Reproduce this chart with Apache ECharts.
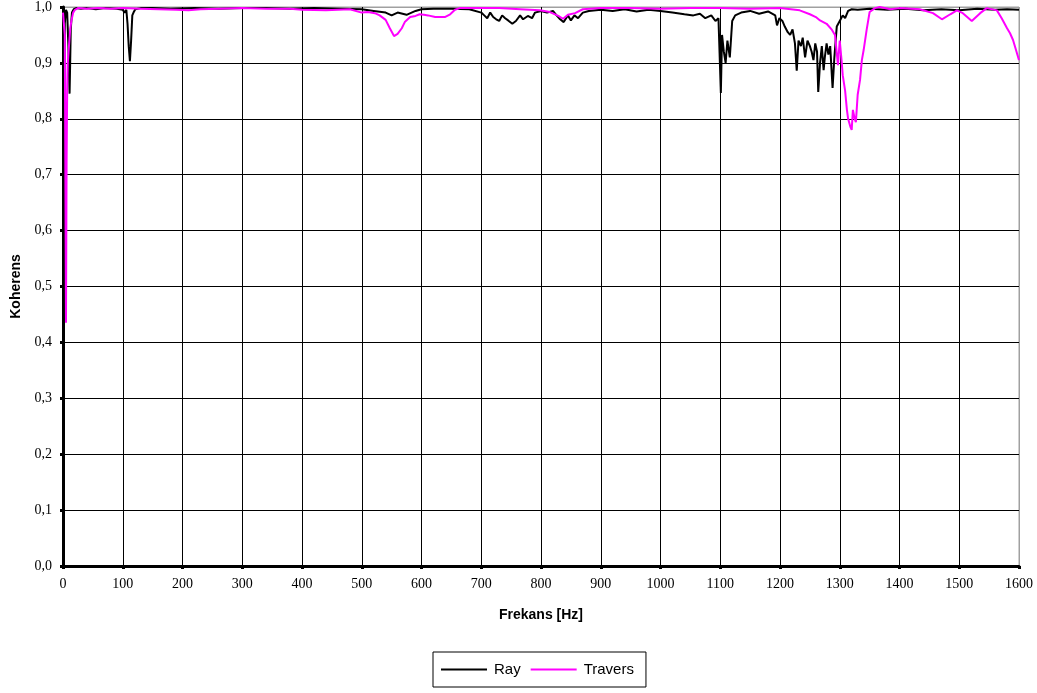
<!DOCTYPE html>
<html>
<head>
<meta charset="utf-8">
<script src="https://cdn.jsdelivr.net/npm/echarts@6/dist/echarts.min.js"></script>
<style>
  html, body { margin: 0; padding: 0; background: #fff; }
  #chart { width: 1037px; height: 693px; }
</style>
</head>
<body>
<div id="chart"></div>
<script>
// Coherence spectra, 0–1600 Hz
const seriesNames = ['Ray', 'Travers'];

const rayHz = [
  0, 1, 2, 3, 5, 7, 9, 10, 11, 12, 13, 15, 18, 22, 30, 40, 55, 70, 90, 100,
  103, 106, 108, 110, 112, 114, 116, 118, 121, 130, 150, 180, 220, 260, 300, 340, 380, 420, 460, 500,
  520, 540, 550, 560, 575, 590, 600, 620, 650, 680, 700, 705, 710, 715, 720, 725, 730, 735, 740, 745,
  752, 758, 765, 770, 778, 785, 790, 800, 810, 820, 826, 832, 838, 845, 850, 856, 862, 870, 880, 900,
  920, 940, 960, 980, 1000, 1020, 1040, 1055, 1066, 1075, 1085, 1092, 1097, 1101, 1103, 1106, 1109, 1112, 1116, 1120,
  1125, 1135, 1150, 1165, 1180, 1192, 1195, 1199, 1204, 1208, 1213, 1217, 1221, 1225, 1228, 1231, 1235, 1238, 1242, 1246,
  1250, 1253, 1256, 1259, 1262, 1264, 1267, 1270, 1273, 1275, 1278, 1281, 1284, 1288, 1291, 1295, 1300, 1305, 1309, 1314,
  1320, 1330, 1350, 1380, 1410, 1440, 1470, 1500, 1530, 1560, 1580, 1600
];
const rayCoh = [
  1.0, 0.16, 0.55, 0.97, 0.995, 0.99, 0.93, 0.88, 0.845, 0.90, 0.96, 0.99, 0.996, 0.998, 0.997, 0.998, 0.996, 0.998, 0.997, 0.995,
  0.99, 0.995, 0.97, 0.93, 0.903, 0.94, 0.985, 0.99, 0.996, 0.998, 0.998, 0.997, 0.998, 0.997, 0.998, 0.998, 0.997, 0.998, 0.997, 0.996,
  0.993, 0.99, 0.985, 0.99, 0.986, 0.993, 0.996, 0.997, 0.997, 0.996, 0.99, 0.985, 0.98, 0.99, 0.982, 0.978, 0.975, 0.985, 0.98, 0.976,
  0.970, 0.975, 0.985, 0.978, 0.984, 0.98, 0.99, 0.993, 0.99, 0.993, 0.985, 0.978, 0.973, 0.985, 0.976, 0.985, 0.98, 0.99, 0.993, 0.995,
  0.993, 0.996, 0.992, 0.995, 0.993, 0.99, 0.987, 0.985, 0.988, 0.98, 0.985, 0.975, 0.98, 0.846, 0.95, 0.92, 0.90, 0.94, 0.91, 0.975,
  0.985, 0.99, 0.993, 0.988, 0.992, 0.985, 0.967, 0.98, 0.975, 0.965, 0.955, 0.95, 0.96, 0.935, 0.886, 0.94, 0.93, 0.945, 0.91, 0.94,
  0.93, 0.92, 0.905, 0.935, 0.92, 0.848, 0.90, 0.93, 0.887, 0.91, 0.935, 0.915, 0.93, 0.855, 0.91, 0.965, 0.975, 0.985, 0.98, 0.993,
  0.996, 0.995, 0.997, 0.995, 0.997, 0.994, 0.996, 0.994, 0.997, 0.995, 0.996, 0.995
];

const travHz = [
  0, 3, 5, 6, 7, 8, 10, 12, 14, 17, 20, 25, 40, 60, 80, 100, 130, 160, 190, 210,
  230, 260, 300, 340, 380, 400, 440, 480, 500, 510, 522, 530, 540, 547, 554, 560, 567, 572, 581, 590,
  597, 604, 611, 623, 639, 648, 656, 664, 698, 730, 765, 798, 815, 829, 837, 845, 857, 870, 899, 950,
  1000, 1050, 1100, 1150, 1200, 1233, 1250, 1260, 1267, 1278, 1287, 1292, 1297, 1300, 1303, 1305, 1309, 1312, 1314, 1318,
  1320, 1322, 1325, 1327, 1330, 1334, 1337, 1340, 1345, 1350, 1359, 1367, 1385, 1400, 1434, 1456, 1471, 1485, 1496, 1506,
  1521, 1535, 1546, 1563, 1571, 1580, 1585, 1590, 1595, 1600
];
const travCoh = [
  0.99, 0.95, 0.435, 0.72, 0.85, 0.90, 0.93, 0.96, 0.975, 0.99, 0.995, 0.998, 0.997, 0.998, 0.997, 0.998, 0.997, 0.996, 0.995, 0.994,
  0.996, 0.997, 0.998, 0.997, 0.997, 0.995, 0.994, 0.996, 0.990, 0.991, 0.989, 0.985, 0.977, 0.962, 0.948, 0.952, 0.962, 0.973, 0.982, 0.984,
  0.987, 0.986, 0.985, 0.982, 0.982, 0.987, 0.995, 0.998, 0.998, 0.998, 0.996, 0.994, 0.991, 0.984, 0.979, 0.986, 0.989, 0.996, 0.998, 0.998,
  0.997, 0.998, 0.998, 0.997, 0.998, 0.994, 0.987, 0.982, 0.976, 0.970, 0.959, 0.950, 0.896, 0.94, 0.905, 0.878, 0.85, 0.816, 0.80, 0.785,
  0.780, 0.816, 0.80, 0.794, 0.843, 0.87, 0.905, 0.923, 0.959, 0.991, 0.998, 1.0, 0.996, 0.998, 0.996, 0.989, 0.978, 0.987, 0.994, 0.989,
  0.975, 0.989, 0.998, 0.994, 0.980, 0.962, 0.953, 0.941, 0.923, 0.905
];

const yTicks = [0, 0.1, 0.2, 0.3, 0.4, 0.5, 0.6, 0.7, 0.8, 0.9, 1.0];

const pairs = (xs, ys) => xs.map((x, i) => [x, ys[i]]);

const chart = echarts.init(document.getElementById('chart'), null, { renderer: 'canvas' });

// last grid line on each axis doubles as the grey plot-area frame
const gridColors = yTicks.map((t, i) => (i === yTicks.length - 1 ? '#a0a0a0' : '#000'));
const xGridColors = Array.from({ length: 17 }, (_, i) => (i === 16 ? '#a0a0a0' : '#000'));

chart.setOption({
  animation: false,
  backgroundColor: '#fff',
  grid: {
    left: 63, right: 18, top: 7, bottom: 127,
    show: true, borderColor: '#a0a0a0', borderWidth: 1
  },
  legend: {
    data: seriesNames,
    left: 433, top: 652,
    icon: 'rect', itemWidth: 46, itemHeight: 2, itemGap: 10,
    padding: [10, 12, 10, 8],
    borderColor: '#000', borderWidth: 1, borderRadius: 0,
    textStyle: { fontFamily: 'Liberation Sans', fontSize: 15, color: '#000', padding: [0, 0, 0, 2] }
  },
  xAxis: {
    type: 'value', min: 0, max: 1600, interval: 100,
    name: 'Frekans [Hz]', nameLocation: 'middle', nameGap: 42,
    nameTextStyle: { fontFamily: 'Liberation Sans', fontWeight: 'bold', fontSize: 14, color: '#000' },
    axisLine: { show: true, onZero: false, lineStyle: { color: '#000', width: 3 } },
    axisTick: { show: true, length: 3, lineStyle: { color: '#000', width: 3 } },
    axisLabel: {
      fontFamily: 'Liberation Serif', fontSize: 14, color: '#000', margin: 11,
      formatter: v => String(v)
    },
    splitLine: { show: true, lineStyle: { color: xGridColors, width: 1 } }
  },
  yAxis: {
    type: 'value', min: 0, max: 1, interval: 0.1,
    name: 'Koherens', nameLocation: 'middle', nameGap: 39, nameRotate: 90,
    nameTextStyle: { fontFamily: 'Liberation Sans', fontWeight: 'bold', fontSize: 14, color: '#000' },
    axisLine: { show: true, lineStyle: { color: '#000', width: 3 } },
    axisTick: { show: true, length: 3, lineStyle: { color: '#000', width: 3 } },
    axisLabel: {
      fontFamily: 'Liberation Serif', fontSize: 14, color: '#000', margin: 11,
      formatter: v => v.toFixed(1).replace('.', ',')
    },
    splitLine: { show: true, lineStyle: { color: gridColors, width: 1 } }
  },
  series: [
    {
      name: seriesNames[0], type: 'line', data: pairs(rayHz, rayCoh),
      showSymbol: false, symbol: 'none',
      lineStyle: { color: '#000', width: 2 }, itemStyle: { color: '#000' }
    },
    {
      name: seriesNames[1], type: 'line', data: pairs(travHz, travCoh),
      showSymbol: false, symbol: 'none',
      lineStyle: { color: '#ff00ff', width: 2 }, itemStyle: { color: '#ff00ff' }
    }
  ]
});
</script>
</body>
</html>
